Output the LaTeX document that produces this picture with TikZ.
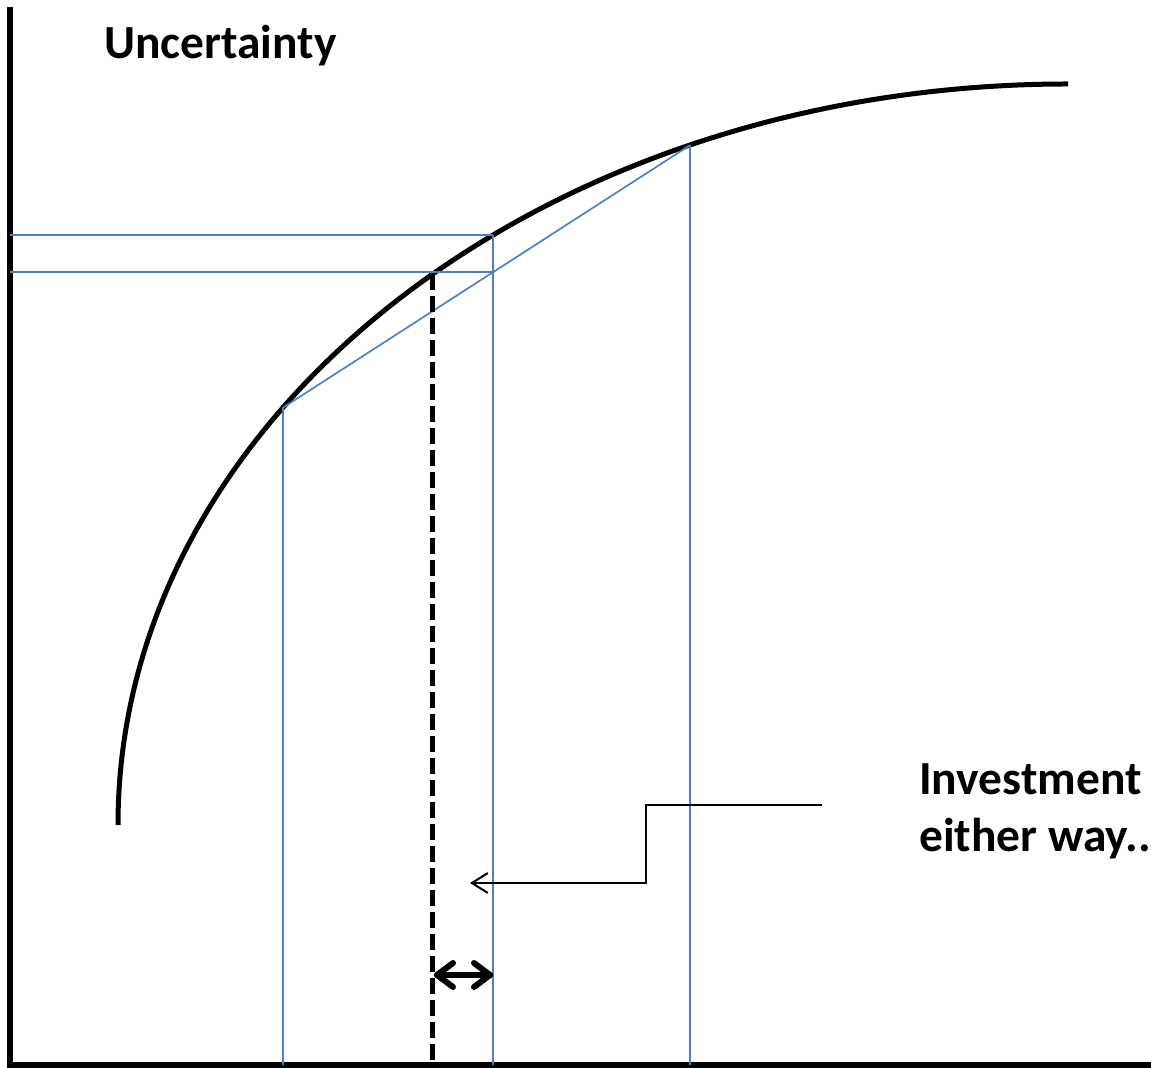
\documentclass[tikz,border=0pt]{standalone}
\usepackage{fontspec}
\setmainfont{Carlito}
\usetikzlibrary{arrows.meta,calc}
\definecolor{guideblue}{RGB}{79,129,189}
\tikzset{
  axisline/.style={line width=6.5pt, line join=miter},
  curveline/.style={line width=5pt},
  guide/.style={draw=guideblue, line width=1.7pt},
  dashline/.style={line width=5pt, dash pattern=on 16pt off 6pt},
  gapline/.style={line width=6pt, line cap=round, line join=round},
  callout/.style={line width=2pt, -{Straight Barb[length=16pt,width=20pt,line width=2pt]}},
  label/.style={font=\bfseries\fontsize{47.5}{58}\selectfont, inner sep=0pt, anchor=base west}
}
\begin{document}
\begin{tikzpicture}[x=1pt,y=1pt]
\useasboundingbox (0,0) rectangle (1151,1068);
\clip (0,0) rectangle (1151,1068);
% axes
\coordinate (ytop) at (10,1061);
\coordinate (origin) at (10,3);
\coordinate (xend) at (1160,3);
\draw[axisline] (ytop) -- (origin) -- (xend);
% curve: quarter ellipse
\coordinate (C) at (1068,243);
\coordinate (cstart) at (118,243);
\draw[curveline] (cstart) arc[start angle=180, end angle=90, x radius=950, y radius=741];
% points on the curve
\coordinate (p1) at ($(C)+(145.7:950 and 741)$);
\coordinate (p2) at ($(C)+(127.25:950 and 741)$);
\coordinate (p3) at ($(C)+(113.45:950 and 741)$);
\coordinate (chordmid) at ($(p1)!{(493-283)/(690-283)}!(p3)$);
% guides
\draw[guide] (p1) -- (p1 |- origin);
\draw[guide] (p2) -- (p2 |- origin);
\draw[guide] (p3) -- (p3 |- origin);
\draw[guide] (p1) -- (p3);
\draw[guide] (p2) -- (p2 -| ytop);
\draw[guide] (chordmid) -- (chordmid -| ytop);
% dashed line
\coordinate (dtop) at (432,794);
\coordinate (dbot) at (432,8);
\draw[dashline] (dtop) -- (dbot);
% gap arrow (double-headed, open chevron heads)
\coordinate (ga) at (437,93);
\coordinate (gb) at (490,93);
\draw[gapline] (ga) -- (gb);
\draw[gapline] ($(ga)+(16,12)$) -- (ga) -- ($(ga)+(16,-12)$);
\draw[gapline] ($(gb)+(-16,12)$) -- (gb) -- ($(gb)+(-16,-12)$);
% labels
\node[label] (unc) at (104,1009) {Uncertainty};
\node[label] (inv1) at (919,273) {Investment};
\node[label] (inv2) at (919,216) {either way..};
% callout
\coordinate (cs) at (822,263);
\coordinate (ce) at (470,185);
\draw[callout] (cs) -- (646,263) -- (646,185) -- (ce);
\end{tikzpicture}
\end{document}
